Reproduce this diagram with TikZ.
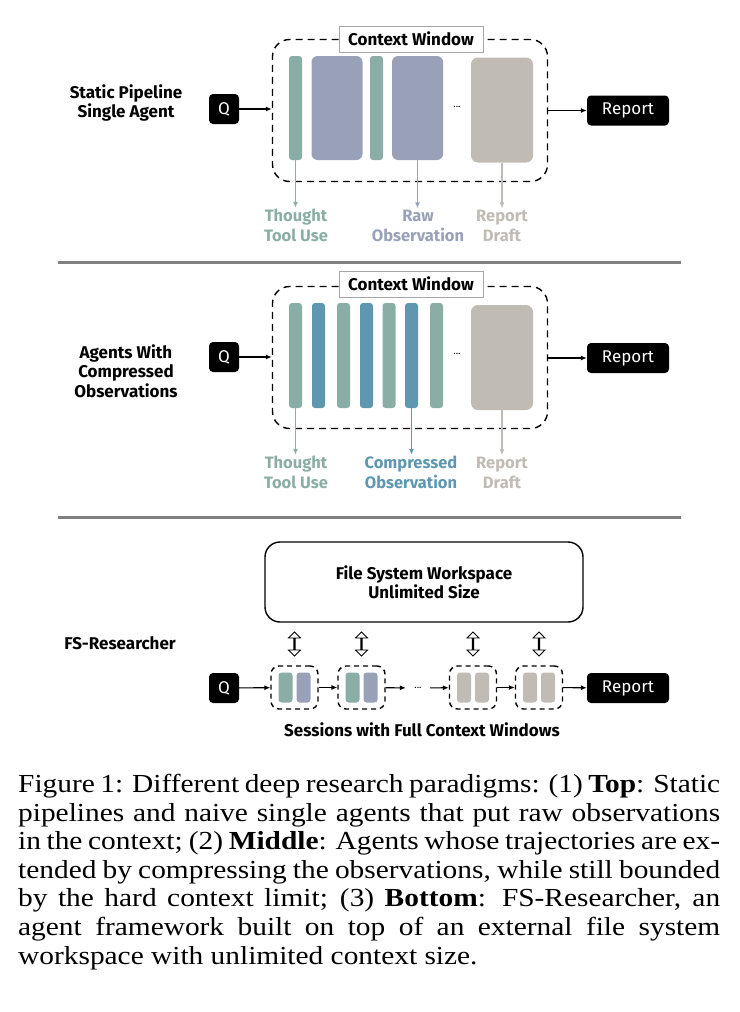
\documentclass[tikz,border=0pt]{standalone}
\usepackage{fontspec}
\usepackage{tikz}
\usetikzlibrary{arrows.meta,positioning,shapes.arrows,calc}
\setmainfont{Liberation Serif}
\newfontfamily\capfont{Liberation Serif}[FakeStretch=1.13]
\newfontfamily\comic{Fira Sans}

\definecolor{thoughtc}{HTML}{8AADA5}
\definecolor{rawc}{HTML}{99A1B9}
\definecolor{draftc}{HTML}{C1BBB5}
\definecolor{compc}{HTML}{5F97B1}
\definecolor{sepc}{HTML}{808080}

\tikzset{
  lbl/.style={font=\comic\bfseries\fontsize{17}{19.5}\selectfont, align=center},
  kind/.style={font=\comic\bfseries\fontsize{16.5}{20}\selectfont, align=center, inner sep=1pt},
  qbox/.style={fill=black, rounded corners=4pt, minimum width=30pt, minimum height=30pt,
    text=white, font=\comic\fontsize{17}{18}\selectfont},
  outbox/.style={fill=black, rounded corners=4pt, minimum width=82pt, minimum height=30pt,
    text=white, font=\comic\fontsize{17}{18}\selectfont},
  window/.style={draw, line width=1.4pt, dash pattern=on 7pt off 5pt, rounded corners=17pt,
    minimum width=275pt, minimum height=142pt},
  cwtitle/.style={draw=gray!70, fill=white, line width=0.6pt, minimum width=144pt,
    minimum height=26pt, font=\comic\bfseries\fontsize{17}{18}\selectfont},
  bar/.style={rounded corners=3pt, minimum width=13pt, minimum height=104pt, inner sep=0pt},
  block/.style={rounded corners=6pt, minimum width=51pt, minimum height=104pt, inner sep=0pt},
  draft/.style={rounded corners=7pt, fill=draftc, minimum width=62pt, minimum height=105pt, inner sep=0pt},
  dots/.style={font=\comic\fontsize{10}{12}\selectfont, minimum width=24pt},
  session/.style={draw, line width=1.4pt, dash pattern=on 5pt off 4pt, rounded corners=8pt,
    minimum width=47pt, minimum height=43pt},
  mini/.style={rounded corners=3pt, minimum width=14pt, minimum height=30pt, inner sep=0pt},
  flow/.style={->, line width=1.1pt},
  pick/.style={->, line width=1.3pt},
  updown/.style={double arrow, draw, line width=0.9pt, shape border rotate=90, inner sep=0pt,
    minimum width=12pt, minimum height=24pt, double arrow head extend=3.5pt},
  sep/.style={sepc, line width=3pt},
}

\begin{document}
\begin{tikzpicture}[x=1pt, y=-1pt, >={Latex[length=6pt,width=5pt]}]
\useasboundingbox (0,0) rectangle (739,1012);

% static pipeline / single agent
\node[lbl] (lbl_top) at (126,103) {Static Pipeline\\Single Agent};
\node[qbox] (q_top) at (224,109) {Q};
\node[window] (win_top) at (410,110.5) {};
\node[cwtitle] (cw_top) at (411,39) {Context Window};
\node[bar, fill=thoughtc] (t1) at (295.5,108) {};
\node[block, fill=rawc] (o1) at (337,108) {};
\node[bar, fill=thoughtc] (t2) at (376.5,108) {};
\node[block, fill=rawc] (o2) at (417.5,108) {};
\node[dots] (dots_top) at (457,107) {...};
\node[draft] (d_top) at (502,110) {};
\node[outbox] (rep_top) at (628,110.5) {Report};
\node[kind, text=thoughtc] (k_thought) at (296,225.5) {Thought\\Tool Use};
\node[kind, text=rawc] (k_raw) at (418,225.5) {Raw\\Observation};
\node[kind, text=draftc] (k_draft) at (502,225.5) {Report\\Draft};
\draw[flow] (q_top) -- (q_top -| win_top.west);
\draw[flow] (win_top.east |- rep_top) -- (rep_top);
\draw[pick, thoughtc] (t1.south) -- (t1.south |- k_thought.north);
\draw[pick, rawc] (o2.south) -- (o2.south |- k_raw.north);
\draw[pick, draftc] (d_top.south) -- (d_top.south |- k_draft.north);

\draw[sep] (58,262) -- (681,262);

% agents with compressed observations
\node[lbl] (lbl_mid) at (126,371) {Agents With\\Compressed\\Observations};
\node[qbox] (q_mid) at (224,357) {Q};
\node[window] (win_mid) at (410,357.5) {};
\node[cwtitle] (cw_mid) at (411,284) {Context Window};
\foreach \i/\x/\c in {1/295.5/thoughtc,2/318.5/compc,3/343.5/thoughtc,4/366.5/compc,
                      5/389/thoughtc,6/411.5/compc,7/436.5/thoughtc}
  \node[bar, fill=\c, minimum height=105pt] (m\i) at (\x,355.5) {};
\node[dots] (dots_mid) at (457,354) {...};
\node[draft] (d_mid) at (502,357.5) {};
\node[outbox] (rep_mid) at (628,358) {Report};
\node[kind, text=thoughtc] (k_thought2) at (296,472.5) {Thought\\Tool Use};
\node[kind, text=compc] (k_comp) at (411,472.5) {Compressed\\Observation};
\node[kind, text=draftc] (k_draft2) at (502,472.5) {Report\\Draft};
\draw[flow] (q_mid) -- (q_mid -| win_mid.west);
\draw[flow] (win_mid.east |- rep_mid) -- (rep_mid);
\draw[pick, thoughtc] (m1.south) -- (m1.south |- k_thought2.north);
\draw[pick, compc] (m6.south) -- (m6.south |- k_comp.north);
\draw[pick, draftc] (d_mid.south) -- (d_mid.south |- k_draft2.north);

\draw[sep] (58,517) -- (681,517);

% fs-researcher
\node[draw, line width=1.4pt, rounded corners=15pt, minimum width=318pt, minimum height=80pt,
  font=\comic\bfseries\fontsize{17}{19}\selectfont, align=center]
  (fs) at (424,582) {File System Workspace\\Unlimited Size};
\node[lbl] (lbl_bot) at (120,643) {FS-Researcher};
\node[qbox] (q_bot) at (224,688) {Q};
\node[session] (s1) at (294.5,687.5) {};
\node[session] (s2) at (361.5,687.5) {};
\node[dots] (dots_bot) at (418,688) {...};
\node[session] (s3) at (473,687.5) {};
\node[session] (s4) at (539,687.5) {};
\node[mini, fill=thoughtc, xshift=-9pt] (s1a) at (s1) {};
\node[mini, fill=rawc, xshift=9pt] (s1b) at (s1) {};
\node[mini, fill=thoughtc, xshift=-9pt] (s2a) at (s2) {};
\node[mini, fill=rawc, xshift=9pt] (s2b) at (s2) {};
\node[mini, fill=draftc, xshift=-9pt] (s3a) at (s3) {};
\node[mini, fill=draftc, xshift=9pt] (s3b) at (s3) {};
\node[mini, fill=draftc, xshift=-9pt] (s4a) at (s4) {};
\node[mini, fill=draftc, xshift=9pt] (s4b) at (s4) {};
\node[outbox] (rep_bot) at (628,688) {Report};
\node[lbl] (sessions) at (422,730) {Sessions with Full Context Windows};
\draw[flow] (q_bot) -- (s1);
\draw[flow] (s1) -- (s2);
\draw[flow] (s2) -- (dots_bot);
\draw[flow] (dots_bot) -- (s3);
\draw[flow] (s3) -- (s4);
\draw[flow] (s4) -- (rep_bot);
\foreach \s in {s1,s2,s3,s4}
  \node[updown] (ud_\s) at ($(\s.north)!0.5!(\s.north |- fs.south)$) {};

% caption
\node[anchor=north west, inner sep=0pt, align=left, font=\capfont\fontsize{26}{28.6}\selectfont]
  (caption) at (18,774) {%
  \makebox[702pt][s]{Figure 1: Different deep research paradigms: (1) \textbf{Top}: Static}\\
  \makebox[702pt][s]{pipelines and naive single agents that put raw observations}\\
  \makebox[702pt][s]{in the context; (2) \textbf{Middle}: Agents whose trajectories are ex-}\\
  \makebox[702pt][s]{tended by compressing the observations, while still bounded}\\
  \makebox[702pt][s]{by the hard context limit; (3) \textbf{Bottom}: FS-Researcher, an}\\
  \makebox[702pt][s]{agent framework built on top of an external file system}\\
  workspace with unlimited context size.};
\end{tikzpicture}
\end{document}
